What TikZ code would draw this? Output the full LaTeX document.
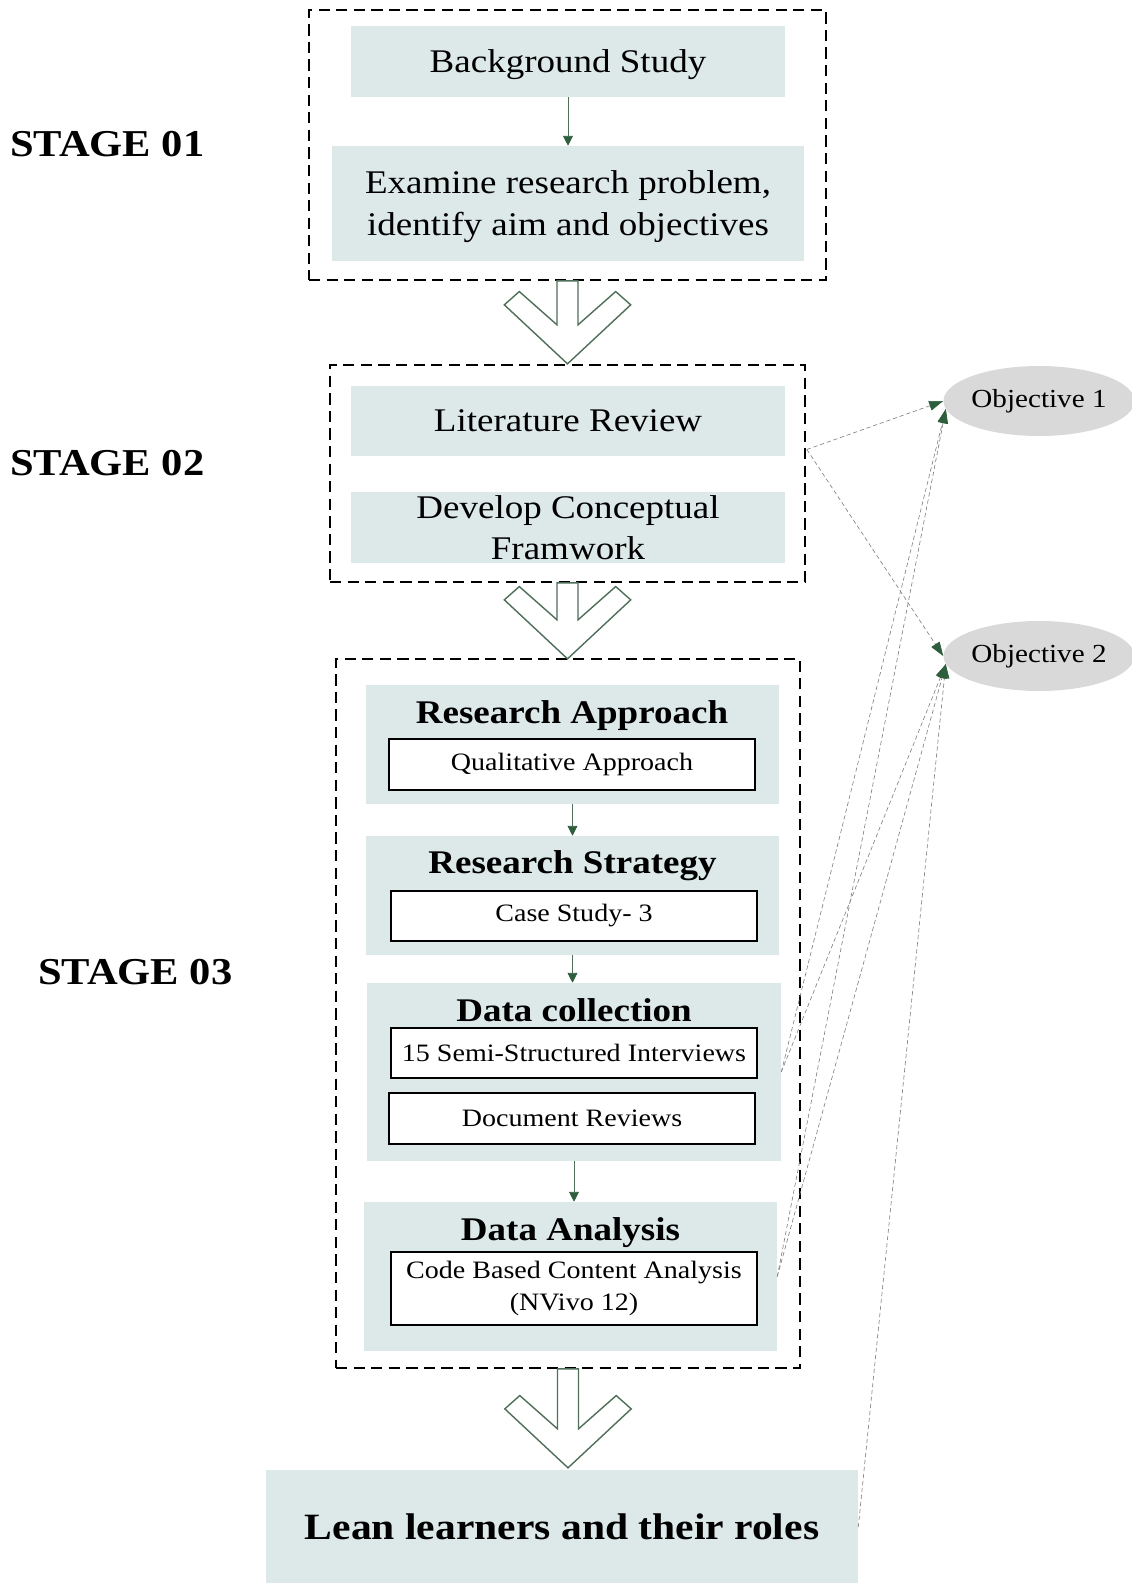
\documentclass[tikz,border=0pt]{standalone}
\usepackage{fontspec}
\setmainfont{Liberation Serif}[FakeStretch=1.12]
\usepackage{tikz}
\usetikzlibrary{arrows.meta,shapes.geometric,calc}

\definecolor{panel}{HTML}{DDE8E9}
\definecolor{objgray}{HTML}{D9D9D9}
\definecolor{tipgreen}{HTML}{2E5E3C}
\definecolor{arrowline}{HTML}{4F6F5A}

\newcommand{\pxu}{0.025cm}

\tikzset{
  stagelabel/.style={anchor=west, inner sep=0pt, font=\bfseries\fontsize{27}{30}\selectfont},
  frame/.style={draw=black, line width=1.2pt, dash pattern=on 8pt off 4.5pt},
  panelbox/.style={fill=panel, inner sep=0pt, align=center, font=\fontsize{23.5}{29}\selectfont},
  panelhead/.style={anchor=base, font=\bfseries\fontsize{23.5}{28}\selectfont},
  methodbox/.style={draw=black, line width=1.1pt, fill=white, inner sep=0pt, align=center,
    minimum width=366*\pxu, font=\fontsize{17.8}{22.7}\selectfont},
  objective/.style={ellipse, fill=objgray, inner sep=0pt, minimum width=184*\pxu,
    minimum height=70*\pxu, font=\fontsize{18.5}{22}\selectfont},
  flow/.style={draw=arrowline, line width=0.6pt, -{Triangle[length=7pt,width=7pt,color=tipgreen]}},
  link/.style={draw=gray, line width=0.45pt, dash pattern=on 3pt off 2pt,
    -{Triangle[length=10pt,width=7pt,color=tipgreen]}},
  hollow/.style={draw=arrowline, fill=white, line width=1pt, line join=miter}
}

% #1 = top of the shaft, #2 = shaft length
\newcommand{\hollowarrow}[2]{%
  \draw[hollow] (#1) ++(-10.5,0) -- ++(0,#2) -- ++(-37.7,-33.3) -- ++(-15,13.3)
    -- ++(63.2,59) -- ++(63.2,-59) -- ++(-15,-13.3) -- ++(-37.7,33.3) -- ++(0,-#2) -- cycle;}

\begin{document}
\begin{tikzpicture}[x=0.025cm, y=-0.025cm]
\useasboundingbox (0,0) rectangle (1131,1583);

\node[stagelabel] (st1) at (10,144) {STAGE 01};
\node[stagelabel] (st2) at (10,463) {STAGE 02};
\node[stagelabel] (st3) at (38,972) {STAGE 03};

% stage 01
\node[frame, minimum width=517*\pxu, minimum height=270*\pxu] (f1) at (567.5,145) {};
\node[panelbox, minimum width=434*\pxu, minimum height=71*\pxu, text height=20pt, text depth=5pt] (bs) at (568,61.5) {Background Study};
\node[panelbox, minimum width=472*\pxu, minimum height=115*\pxu, font=\fontsize{23.5}{29.5}\selectfont] (ex) at (568,203.5) {\rule{0pt}{20.5pt}Examine research problem,\\identify aim and objectives};
\draw[flow] (bs) -- (ex);

% stage 02
\node[frame, minimum width=475*\pxu, minimum height=217*\pxu] (f2) at (567.5,473.5) {};
\node[panelbox, minimum width=434*\pxu, minimum height=70*\pxu] (lr) at (568,421) {Literature Review};
\node[panelbox, minimum width=434*\pxu, minimum height=71*\pxu] (cf) at (568,527.5) {Develop Conceptual\\Framwork};

% stage 03
\node[frame, minimum width=464*\pxu, minimum height=709*\pxu] (f3) at (568,1013.5) {};
\node[panelbox, minimum width=413*\pxu, minimum height=119*\pxu] (ra) at (572.5,744.5) {};
\node[panelhead] (rah) at (572,723) {Research Approach};
\node[methodbox, minimum height=51*\pxu] (raq) at (572,764.5) {Qualitative Approach};

\node[panelbox, minimum width=413*\pxu, minimum height=119*\pxu] (rs) at (572.5,895.5) {};
\node[panelhead] (rsh) at (572.5,873) {Research Strategy};
\node[methodbox, minimum height=50*\pxu] (rsc) at (574,916) {Case Study- 3};

\node[panelbox, minimum width=414*\pxu, minimum height=178*\pxu] (dc) at (574,1072) {};
\node[panelhead] (dch) at (574,1021) {Data collection};
\node[methodbox, minimum height=50*\pxu] (dci) at (574,1053) {15 Semi-Structured Interviews};
\node[methodbox, minimum height=51*\pxu] (dcd) at (572,1118.5) {Document Reviews};

\node[panelbox, minimum width=413*\pxu, minimum height=149*\pxu] (da) at (570.5,1276.5) {};
\node[panelhead] (dah) at (570.5,1240) {Data Analysis};
\node[methodbox, minimum height=73*\pxu] (dac) at (574,1288.5) {Code Based Content Analysis\\(NVivo 12)};

\draw[flow] (ra.south) -- (ra.south |- rs.north);
\draw[flow] (rs.south) -- (rs.south |- dc.north);
\draw[flow] (dc.south) -- (dc.south |- da.north);

\node[panelbox, minimum width=592*\pxu, minimum height=114*\pxu,
  font=\bfseries\fontsize{26.4}{30}\selectfont] (lean) at (562,1527) {Lean learners and their roles};

\hollowarrow{f1.south}{44}
\hollowarrow{f2.south}{37}
\hollowarrow{f3.south}{60}

% objectives
\node[objective] (ob1) at (1039,401) {Objective 1};
\node[objective] (ob2) at (1039,656) {Objective 2};

\draw[link] ($(f2.east)+(1,-24)$) -- (ob1.west);
\draw[link] ($(f2.east)+(1,-24)$) -- (ob2.west);
\foreach \src in {dc,da} {
  \draw[link] (\src.east) -- (ob1.185);
  \draw[link] (\src.east) -- (ob2.185);
}
\draw[link] (lean.east) -- (ob2.185);
\end{tikzpicture}
\end{document}
